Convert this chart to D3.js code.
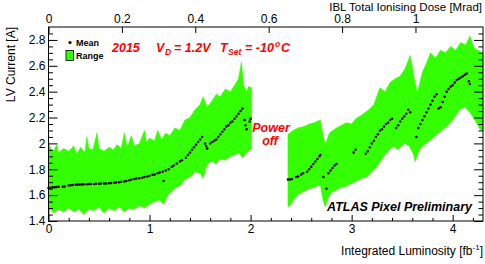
<!DOCTYPE html>
<html>
<head>
<meta charset="utf-8">
<script src="https://cdn.jsdelivr.net/npm/d3@7/dist/d3.min.js"></script>
<style>
  body { margin: 0; background: #fff; }
  text { font-family: "Liberation Sans", Arial, sans-serif; }
</style>
</head>
<body>
<script>
var width = 485, height = 264;

// range band, first fill (before power off): [lumi, value]
var rangeHigh1 = [
  [0.00, 2.02], [0.02, 1.96], [0.05, 1.94], [0.08, 1.99], [0.10, 1.93], [0.15, 1.96],
  [0.20, 1.94], [0.25, 1.98], [0.28, 1.92], [0.32, 1.97], [0.36, 1.93], [0.38, 2.05],
  [0.40, 1.96], [0.44, 1.95], [0.48, 2.08], [0.50, 1.96], [0.55, 1.94], [0.60, 1.97],
  [0.64, 1.95], [0.68, 1.99], [0.72, 1.96], [0.75, 2.08], [0.78, 1.97], [0.82, 2.06],
  [0.85, 1.98], [0.90, 2.00], [0.95, 2.10], [0.97, 2.01], [1.00, 2.04], [1.05, 2.02],
  [1.08, 2.10], [1.12, 2.03], [1.16, 2.08], [1.20, 2.06], [1.25, 2.12], [1.30, 2.10],
  [1.35, 2.18], [1.40, 2.20], [1.45, 2.26], [1.50, 2.30], [1.53, 2.36], [1.57, 2.28],
  [1.62, 2.33], [1.66, 2.38], [1.70, 2.36], [1.75, 2.42], [1.80, 2.40], [1.85, 2.46],
  [1.88, 2.50], [1.91, 2.63], [1.93, 2.45], [1.96, 2.40], [1.98, 2.44], [2.01, 2.43]
];
var rangeLow1 = [
  [0.00, 1.42], [0.02, 1.50], [0.05, 1.46], [0.10, 1.49], [0.15, 1.47], [0.20, 1.50],
  [0.25, 1.47], [0.30, 1.49], [0.35, 1.45], [0.40, 1.49], [0.45, 1.48], [0.50, 1.51],
  [0.55, 1.46], [0.60, 1.50], [0.65, 1.48], [0.70, 1.51], [0.75, 1.47], [0.80, 1.50],
  [0.85, 1.49], [0.90, 1.52], [0.95, 1.50], [1.00, 1.53], [1.05, 1.55], [1.10, 1.56],
  [1.14, 1.53], [1.18, 1.60], [1.22, 1.63], [1.26, 1.66], [1.30, 1.67], [1.35, 1.72],
  [1.40, 1.74], [1.45, 1.78], [1.50, 1.77], [1.53, 1.73], [1.57, 1.84], [1.62, 1.86],
  [1.66, 1.84], [1.70, 1.88], [1.75, 1.87], [1.80, 1.90], [1.85, 1.91], [1.88, 1.93],
  [1.92, 1.89], [1.95, 1.92], [2.01, 1.96]
];
// range band, second fill (after power off)
var rangeHigh2 = [
  [2.37, 2.07], [2.42, 2.10], [2.47, 2.12], [2.53, 2.13], [2.58, 2.15], [2.63, 2.16],
  [2.69, 2.18], [2.72, 2.05], [2.74, 1.99], [2.78, 2.08], [2.85, 2.12], [2.90, 2.14],
  [2.95, 2.16], [3.00, 2.15], [3.04, 2.19], [3.10, 2.22], [3.17, 2.26], [3.22, 2.30],
  [3.28, 2.43], [3.33, 2.40], [3.38, 2.47], [3.43, 2.50], [3.48, 2.52], [3.53, 2.58],
  [3.58, 2.68], [3.62, 2.50], [3.65, 2.39], [3.70, 2.55], [3.74, 2.62], [3.78, 2.70],
  [3.83, 2.66], [3.88, 2.72], [3.93, 2.70], [3.98, 2.75], [4.03, 2.72], [4.08, 2.78],
  [4.13, 2.76], [4.17, 2.83], [4.21, 2.74], [4.25, 2.72], [4.30, 2.70]
];
var rangeLow2 = [
  [2.37, 1.51], [2.40, 1.53], [2.44, 1.58], [2.48, 1.61], [2.53, 1.63], [2.58, 1.65],
  [2.63, 1.66], [2.69, 1.68], [2.72, 1.55], [2.74, 1.51], [2.77, 1.58], [2.80, 1.62],
  [2.85, 1.64], [2.90, 1.66], [2.95, 1.67], [3.00, 1.69], [3.05, 1.71], [3.10, 1.73],
  [3.15, 1.74], [3.20, 1.78], [3.25, 1.82], [3.30, 1.88], [3.35, 1.93], [3.41, 1.98],
  [3.46, 1.95], [3.52, 2.00], [3.57, 1.98], [3.61, 1.92], [3.63, 1.86], [3.66, 1.93],
  [3.70, 1.98], [3.74, 2.00], [3.80, 2.04], [3.86, 2.08], [3.94, 2.13], [4.00, 2.18],
  [4.07, 2.26], [4.12, 2.28], [4.17, 2.24], [4.22, 2.18], [4.27, 2.11], [4.30, 2.10]
];

// mean LV current points
var meanPoints = [
  [0.00, 1.655], [0.02, 1.658], [0.04, 1.66], [0.06, 1.66], [0.08, 1.662], [0.10, 1.665],
  [0.14, 1.665], [0.16, 1.667], [0.20, 1.675], [0.22, 1.676], [0.24, 1.678], [0.27, 1.68],
  [0.29, 1.682], [0.31, 1.683], [0.33, 1.683], [0.35, 1.684], [0.38, 1.685], [0.40, 1.686],
  [0.42, 1.686], [0.45, 1.687], [0.47, 1.688], [0.50, 1.688], [0.52, 1.689], [0.55, 1.69],
  [0.57, 1.69], [0.60, 1.692], [0.62, 1.693], [0.65, 1.695], [0.67, 1.697], [0.70, 1.70],
  [0.72, 1.703], [0.75, 1.706], [0.77, 1.71], [0.80, 1.715], [0.82, 1.72], [0.85, 1.725],
  [0.87, 1.728], [0.90, 1.73], [0.93, 1.735], [0.95, 1.74], [0.98, 1.745], [1.00, 1.75],
  [1.03, 1.757], [1.05, 1.76], [1.08, 1.77], [1.10, 1.775], [1.13, 1.78], [1.14, 1.71],
  [1.16, 1.79], [1.19, 1.80], [1.22, 1.82], [1.24, 1.83], [1.27, 1.845], [1.30, 1.86],
  [1.32, 1.87], [1.36, 1.89], [1.38, 1.91], [1.40, 1.93], [1.42, 1.95], [1.44, 1.97],
  [1.46, 1.99], [1.48, 2.01], [1.50, 2.03], [1.52, 2.05], [1.55, 2.00], [1.56, 1.98],
  [1.57, 1.96], [1.60, 2.00], [1.62, 2.01], [1.64, 2.02], [1.66, 2.03], [1.68, 2.05],
  [1.70, 2.07], [1.72, 2.09], [1.74, 2.11], [1.76, 2.13], [1.78, 2.14], [1.80, 2.16],
  [1.82, 2.17], [1.84, 2.19], [1.86, 2.21], [1.88, 2.23], [1.90, 2.25], [1.92, 2.27],
  [1.94, 2.18], [1.95, 2.14], [1.96, 2.11], [1.99, 2.17], [2.00, 2.19],
  [2.37, 1.72], [2.39, 1.72], [2.41, 1.725], [2.45, 1.74], [2.47, 1.745], [2.50, 1.76],
  [2.52, 1.77], [2.56, 1.78], [2.58, 1.80], [2.60, 1.82], [2.62, 1.84], [2.64, 1.86],
  [2.66, 1.88], [2.68, 1.90], [2.69, 1.91], [2.72, 1.74], [2.75, 1.65], [2.77, 1.77],
  [2.79, 1.79], [2.81, 1.81], [2.83, 1.83], [2.85, 1.84], [3.02, 1.93], [3.04, 1.95],
  [3.14, 1.92], [3.16, 1.94], [3.18, 1.97], [3.20, 2.00], [3.22, 2.02], [3.24, 2.05],
  [3.26, 2.07], [3.28, 2.10], [3.30, 2.11], [3.32, 2.13], [3.34, 2.15], [3.36, 2.16],
  [3.38, 2.18], [3.40, 2.19], [3.44, 2.12], [3.46, 2.14], [3.48, 2.17], [3.50, 2.19],
  [3.52, 2.21], [3.54, 2.23], [3.56, 2.26], [3.58, 2.24], [3.64, 2.05], [3.66, 2.12],
  [3.68, 2.15], [3.70, 2.18], [3.72, 2.21], [3.74, 2.24], [3.76, 2.27], [3.78, 2.30],
  [3.80, 2.33], [3.82, 2.36], [3.84, 2.38], [3.86, 2.27], [3.88, 2.28], [3.90, 2.32],
  [3.92, 2.36], [3.94, 2.40], [3.96, 2.42], [3.98, 2.44], [4.00, 2.45], [4.02, 2.47],
  [4.04, 2.49], [4.06, 2.50], [4.08, 2.51], [4.10, 2.52], [4.12, 2.53], [4.14, 2.54],
  [4.16, 2.48], [4.17, 2.46]
];

var lumiTicks = [0, 1, 2, 3, 4];
var doseTicks = [0, 0.2, 0.4, 0.6, 0.8, 1];
var currentTicks = [1.4, 1.6, 1.8, 2, 2.2, 2.4, 2.6, 2.8];
var lumiMax = 4.3;
var doseMax = 1.184;   // dose at lumiMax

var plotL = 48.5, plotR = 483, plotT = 27, plotB = 221;

var svg = d3.select('body').append('svg')
    .attr('width', width)
    .attr('height', height);

var x = d3.scaleLinear().domain([0, lumiMax]).range([plotL, plotR]);
var xDose = d3.scaleLinear().domain([0, doseMax]).range([plotL, plotR]);
var y = d3.scaleLinear().domain([1.4, 2.9]).range([plotB, plotT]);

// band
var bands = [[rangeHigh1, rangeLow1], [rangeHigh2, rangeLow2]];
var line = d3.line().x(function (d) { return x(d[0]); }).y(function (d) { return y(d[1]); });
bands.forEach(function (b) {
    var poly = b[0].concat(b[1].slice().reverse());
    svg.append('path')
        .attr('d', line(poly) + 'Z')
        .attr('fill', '#33ff00')
        .attr('stroke', '#33ff00')
        .attr('stroke-width', 0.6);
});

svg.selectAll('circle.mean')
    .data(meanPoints)
    .enter().append('circle')
        .attr('class', 'mean')
        .attr('cx', function (d) { return x(d[0]); })
        .attr('cy', function (d) { return y(d[1]); })
        .attr('r', 1.25)
        .attr('fill', 'black');

// frame
svg.append('rect')
    .attr('x', plotL).attr('y', plotT)
    .attr('width', plotR - plotL).attr('height', plotB - plotT)
    .attr('fill', 'none').attr('stroke', 'black').attr('stroke-width', 1);

var fmt = function (d) { return String(+d.toFixed(1)); };
var minorY = d3.range(1.45, 2.9, 0.05).filter(function (v) {
    return Math.abs(v * 5 - Math.round(v * 5)) > 0.01;
});
var minorX = d3.range(0.2, lumiMax, 0.2).filter(function (v) {
    return Math.abs(v - Math.round(v)) > 0.01;
});

function styleAxis(g) {
    g.select('.domain').remove();
    g.selectAll('text').attr('font-size', 12).attr('fill', 'black')
        .attr('font-family', '"Liberation Sans", Arial, sans-serif');
    g.selectAll('line').attr('stroke', 'black');
}

svg.append('g').attr('transform', 'translate(' + plotL + ',0)')
    .call(d3.axisLeft(y).tickValues(currentTicks).tickFormat(fmt).tickSize(-9).tickPadding(3))
    .call(styleAxis);
svg.append('g').attr('transform', 'translate(' + plotL + ',0)')
    .call(d3.axisLeft(y).tickValues(minorY).tickFormat('').tickSize(-4.5))
    .call(styleAxis);
svg.append('g').attr('transform', 'translate(' + plotR + ',0)')
    .call(d3.axisRight(y).tickValues(currentTicks).tickFormat('').tickSize(-9))
    .call(styleAxis);
svg.append('g').attr('transform', 'translate(' + plotR + ',0)')
    .call(d3.axisRight(y).tickValues(minorY).tickFormat('').tickSize(-4.5))
    .call(styleAxis);

svg.append('g').attr('transform', 'translate(0,' + plotB + ')')
    .call(d3.axisBottom(x).tickValues(lumiTicks).tickFormat(fmt).tickSize(-6).tickPadding(3.5))
    .call(styleAxis);
svg.append('g').attr('transform', 'translate(0,' + plotB + ')')
    .call(d3.axisBottom(x).tickValues(minorX).tickFormat('').tickSize(-3))
    .call(styleAxis);

svg.append('g').attr('transform', 'translate(0,' + plotT + ')')
    .call(d3.axisTop(xDose).tickValues(doseTicks).tickFormat(fmt).tickSize(-6).tickPadding(4))
    .call(styleAxis);

// axis titles
svg.append('text')
    .attr('transform', 'translate(15,' + plotT + ') rotate(-90)')
    .attr('text-anchor', 'end')
    .attr('font-size', 12)
    .text('LV Current [A]');

var xt = svg.append('text')
    .attr('x', plotR).attr('y', 255)
    .attr('text-anchor', 'end')
    .attr('font-size', 12);
xt.append('tspan').text('Integrated Luminosity [fb');
xt.append('tspan').attr('font-size', 8).attr('dy', -5).text('-1');
xt.append('tspan').attr('dy', 5).text(']');

svg.append('text')
    .attr('x', plotR - 1).attr('y', 10.5)
    .attr('text-anchor', 'end')
    .attr('font-size', 11.5)
    .text('IBL Total Ionising Dose [Mrad]');

// legend
svg.append('circle').attr('cx', 70).attr('cy', 42.5).attr('r', 1.6).attr('fill', 'black');
svg.append('text').attr('x', 76).attr('y', 46).attr('font-size', 9).attr('font-weight', 'bold').text('Mean');
svg.append('rect').attr('x', 66).attr('y', 50.5).attr('width', 7.5).attr('height', 10)
    .attr('fill', '#33ff00').attr('stroke', 'black').attr('stroke-width', 0.8);
svg.append('text').attr('x', 76).attr('y', 59).attr('font-size', 9).attr('font-weight', 'bold').text('Range');

// annotation
var red = '#ff0000';
var ann = svg.append('g').attr('fill', red).attr('font-weight', 'bold').attr('font-style', 'italic');
ann.append('text').attr('x', 112).attr('y', 52).attr('font-size', 12.5).text('2015');
var v = ann.append('text').attr('x', 156).attr('y', 52).attr('font-size', 12.5);
v.append('tspan').text('V');
v.append('tspan').attr('font-size', 8.5).attr('dy', 3).attr('x', 165).text('D');
v.append('tspan').attr('dy', -3).attr('x', 174).text('= 1.2V');
var t = ann.append('text').attr('x', 220).attr('y', 52).attr('font-size', 12.5);
t.append('tspan').text('T');
t.append('tspan').attr('font-size', 8.5).attr('dy', 3).attr('x', 228).text('Set');
t.append('tspan').attr('dy', -3).attr('x', 245).text('= -10');
t.append('tspan').attr('font-size', 8.5).attr('dy', -5).attr('x', 275).text('o');
t.append('tspan').attr('dy', 5).attr('x', 281).text('C');

ann.append('text').attr('x', 271).attr('y', 131.5).attr('text-anchor', 'middle').attr('font-size', 12.5).text('Power');
ann.append('text').attr('x', 270).attr('y', 145).attr('text-anchor', 'middle').attr('font-size', 12.5).text('off');

svg.append('text')
    .attr('x', 472).attr('y', 211)
    .attr('text-anchor', 'end')
    .attr('font-size', 12.5)
    .attr('font-weight', 'bold')
    .attr('font-style', 'italic')
    .text('ATLAS Pixel Preliminary');
</script>
</body>
</html>
